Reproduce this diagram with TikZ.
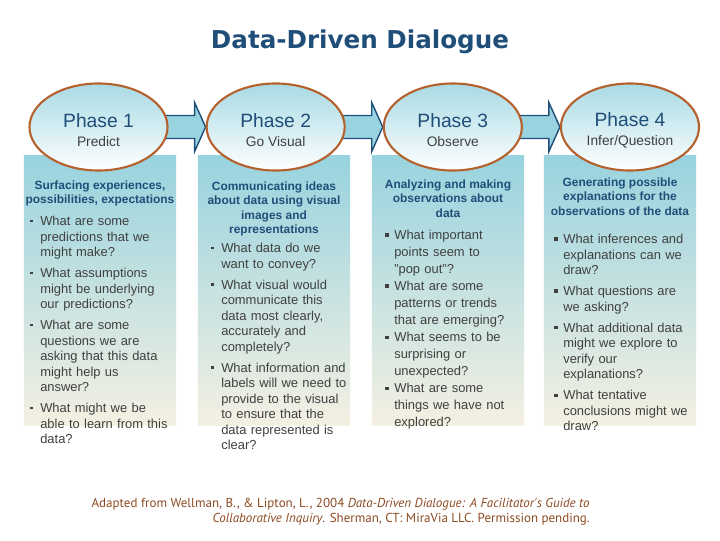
\documentclass[tikz,border=0pt]{standalone}
\usepackage{fontspec}
\setmainfont{Liberation Sans}
\newfontfamily\titlefont{DejaVu Sans}
\newfontfamily\notefont{PT Sans}
\usetikzlibrary{shapes.geometric}
\usetikzlibrary{positioning}
\usetikzlibrary{calc}
\usetikzlibrary{backgrounds}

\definecolor{darkblue}{HTML}{1F4E79}
\definecolor{lightblue}{HTML}{98D3DF}
\definecolor{paleblue}{HTML}{A8DAE4}
\definecolor{sand}{HTML}{F4F0E2}
\definecolor{rust}{HTML}{B5612E}
\definecolor{ink}{HTML}{404040}
\definecolor{notebrown}{HTML}{8C4A22}

\newcommand{\subfont}{\color{ink}\fontsize{9.8}{11}\selectfont}
\newcommand{\qdot}{\leavevmode\llap{\rule[0.26em]{1.8pt}{1.8pt}\hspace{5.5pt}}}
\newcommand{\qsq}{\leavevmode\llap{\rule[0.22em]{2.4pt}{2.4pt}\hspace{4pt}}}

\begin{document}
\begin{tikzpicture}[
x=0.025cm, y=-0.025cm,
every node/.style={inner sep=0},
phase/.style={ellipse, draw=rust, line width=1.5pt, top color=paleblue, bottom color=white, minimum width=3.45cm, minimum height=2.175cm, align=center, text=darkblue, font=\fontsize{13.7}{13.5}\selectfont},
panel/.style={rectangle, top color=lightblue, bottom color=sand, minimum width=3.8cm, minimum height=6.725cm},
heading/.style={align=center, text=darkblue, font=\bfseries\fontsize{8.5}{10.3}\selectfont},
questions/.style={align=left, text=ink, text width=3.5cm, anchor=north west, font=\fontsize{9.2}{11}\selectfont},
flow/.style={draw=darkblue, fill=lightblue, line width=1pt, line join=miter}
]
\useasboundingbox (0,0) rectangle (720,540);

\node[font=\titlefont\bfseries\fontsize{17.5}{20}\selectfont, text=darkblue] (title) at (360,42) {Data-Driven Dialogue};

% panels under the phases
\node[panel] (b1) at (100,290.5) {};
\node[panel] (b2) at (274,290.5) {};
\node[panel] (b3) at (448,290.5) {};
\node[panel] (b4) at (620,290.5) {};

% the four phases
\node[phase] (e1) at (98.5,127) {\rule{0pt}{14.2pt}Phase 1\\{\subfont Predict}};
\node[phase, right=0.925cm of e1] (e2) {\rule{0pt}{14.2pt}Phase 2\\{\subfont Go Visual}};
\node[phase, right=0.925cm of e2] (e3) {\rule{0pt}{14.2pt}Phase 3\\{\subfont Observe}};
\node[phase, right=0.925cm of e3] (e4) {\rule{0pt}{14.2pt}Phase 4\\{\subfont Infer/Question}};

\begin{pgfonlayer}{background}
\foreach \a/\b in {e1/e2, e2/e3, e3/e4}
  \draw[flow] ($(\a.east)+(-12,-11.5)$) -- ($(\b.west)+(-11,-11.5)$) -- ($(\b.west)+(-11,-24.5)$) -- (\b.west) -- ($(\b.west)+(-11,24.5)$) -- ($(\b.west)+(-11,11.5)$) -- ($(\a.east)+(-12,11.5)$);
\end{pgfonlayer}

\node[heading, below=0.61cm of b1.north] (h1) {Surfacing experiences,\\possibilities, expectations};
\node[heading, below=0.64cm of b2.north] (h2) {Communicating ideas\\about data using visual\\images and\\representations};
\node[heading, below=0.59cm of b3.north] (h3) {Analyzing and making\\observations about\\data};
\node[heading, below=0.54cm of b4.north] (h4) {Generating possible\\explanations for the\\observations of the data};

\node[questions] (q1) at (40,216) {\qdot What are some\\predictions that we\\might make?\\[4pt]\qdot What assumptions\\might be underlying\\our predictions?\\[4pt]\qdot What are some\\questions we are\\asking that this data\\might help us\\answer?\\[4pt]\qdot What might we be\\able to learn from this\\data?};
\node[questions] (q2) at (221,243) {\qdot What data do we\\want to convey?\\[4pt]\qdot What visual would\\communicate this\\data most clearly,\\accurately and\\completely?\\[4pt]\qdot What information and\\labels will we need to\\provide to the visual\\to ensure that the\\data represented is\\clear?};
\node[questions, font=\fontsize{9.2}{12.1}\selectfont] (q3) at (394,230) {\qsq What important\\points seem to\\"pop out"?\\\qsq What are some\\patterns or trends\\that are emerging?\\\qsq What seems to be\\surprising or\\unexpected?\\\qsq What are some\\things we have not\\explored?};
\node[questions] (q4) at (563,234) {\qsq What inferences and\\explanations can we\\draw?\\[4pt]\qsq What questions are\\we asking?\\[4pt]\qsq What additional data\\might we explore to\\verify our\\explanations?\\[4pt]\qsq What tentative\\conclusions might we\\draw?};

\node[font=\notefont\fontsize{9.25}{10.7}\selectfont, text=notebrown, align=right, anchor=north east] (note) at (590,498) {Adapted from Wellman, B., \& Lipton, L., 2004 \textit{Data-Driven Dialogue: A Facilitator's Guide to}\\\textit{Collaborative Inquiry}. Sherman, CT: MiraVia LLC. Permission pending.};
\end{tikzpicture}
\end{document}
